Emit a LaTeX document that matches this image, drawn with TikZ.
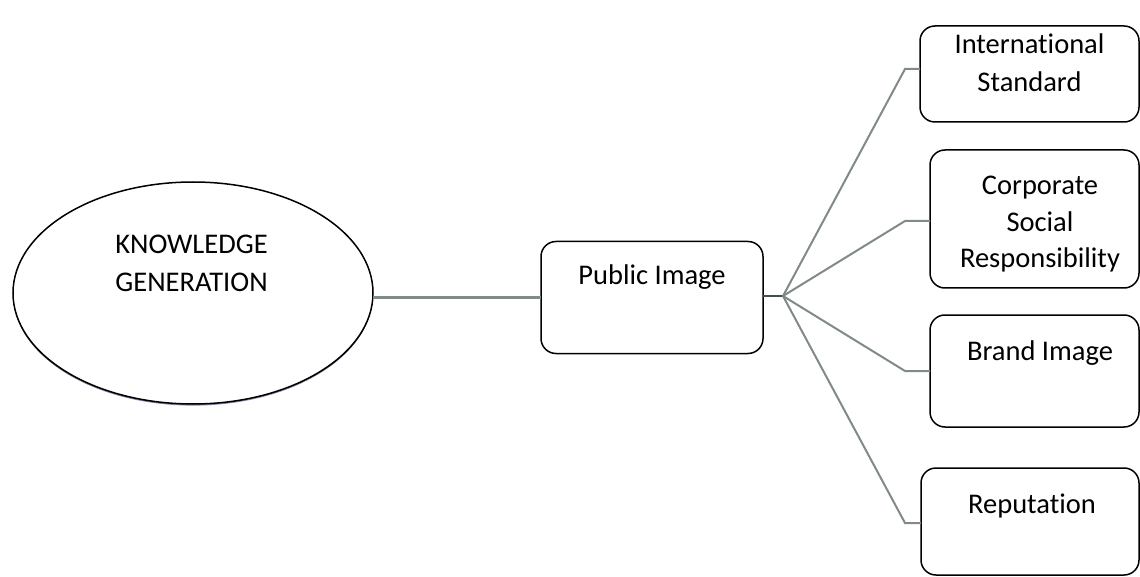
\documentclass[tikz,border=0pt]{standalone}
\usepackage{fontspec}
\setmainfont[Ligatures={NoCommon}]{Carlito}
\usetikzlibrary{shapes.geometric,shadows}
\definecolor{linkgray}{RGB}{128,138,134}
\definecolor{stubgray}{RGB}{70,78,76}
\definecolor{rimblue}{RGB}{20,40,90}
\begin{document}
\begin{tikzpicture}[x=1pt,y=-1pt,
  every node/.style={inner sep=0pt, outer sep=0pt},
  label/.style={font=\fontsize{28.5}{37}\selectfont, align=center, anchor=base},
  topic/.style={draw=black, line width=1.5pt, rounded corners=15pt, fill=white},
  hub/.style={ellipse, draw=black, line width=1.5pt, fill=white,
    drop shadow={shadow xshift=0pt, shadow yshift=-1.6pt, fill=rimblue, opacity=0.55}},
  link/.style={draw=linkgray, line width=2pt},
  stub/.style={draw=stubgray, line width=2.6pt}]
\useasboundingbox (0,0) rectangle (1140,577);
\clip (0,0) rectangle (1140,577);

% central ellipse (multi-line labels are placed by their last baseline)
\node[hub, minimum width=360pt, minimum height=222pt] (kg) at (193,293) {};
\node[label, font=\fontsize{28.5}{38.3}\selectfont] (kg-t) at (191.5,291.7) {KNOWLEDGE\\GENERATION};

% middle box
\node[topic, minimum width=222pt, minimum height=112pt] (pub) at (652,297.5) {};
\node[label] (pub-t) at (652,285) {Public Image};

% right-hand boxes
\node[topic, minimum width=219pt, minimum height=96pt] (intl) at (1029.5,74) {};
\node[label, font=\fontsize{28.5}{38.5}\selectfont] (intl-t) at (1029.5,92) {International\\Standard};

\node[topic, minimum width=209pt, minimum height=138pt] (csr) at (1034.5,219) {};
\node[label, font=\fontsize{28.5}{36.5}\selectfont] (csr-t) at (1040,268) {Corporate\\Social\\Responsibility};

\node[topic, minimum width=209pt, minimum height=112pt] (brand) at (1034.5,371) {};
\node[label] (brand-t) at (1040,360) {Brand Image};

\node[topic, minimum width=218pt, minimum height=107pt] (rep) at (1030,521.5) {};
\node[label] (rep-t) at (1032,513) {Reputation};

% branch point and elbows
\coordinate (j) at (783,296);
\coordinate (e1) at (905,69);
\coordinate (e2) at (905,221);
\coordinate (e3) at (905,371);
\coordinate (e4) at (905,523);

% connectors
\draw[link, line width=2.4pt] (kg.east |- pub.west) -- (pub.west);
\draw[stub] (pub.east |- j) -- (j);
\draw[link] (j) -- (e1) -- (e1 -| intl.west);
\draw[link] (j) -- (e2) -- (e2 -| csr.west);
\draw[link] (j) -- (e3) -- (e3 -| brand.west);
\draw[link] (j) -- (e4) -- (e4 -| rep.west);
\end{tikzpicture}
\end{document}
